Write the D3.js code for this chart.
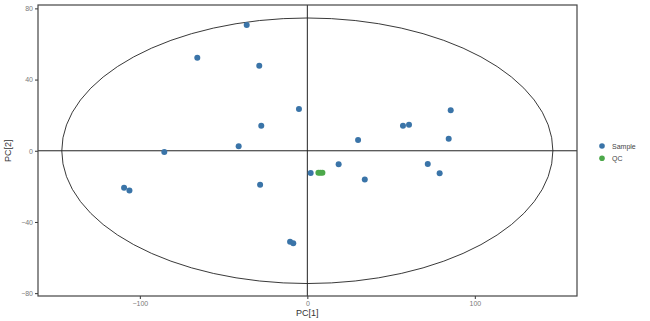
<!DOCTYPE html>
<html>
<head>
<meta charset="utf-8">
<script src="https://cdn.jsdelivr.net/npm/d3@7"></script>
<style>
  body { margin: 0; background: #fff; }
  text { font-family: "Liberation Sans", Arial, sans-serif; }
</style>
</head>
<body>
<div id="chart"></div>
<script>
// sample scores
const sampleX = [-36.2, -65.7, -28.7, -5.0, -27.5, -41.0, -85.4, 85.6, 57.1, 60.7, 30.3, 84.4,
                 -109.4, -106.2, -28.2, -10.3, -8.4, 2.0, 18.7, 34.3, 71.9, 79.0];
const sampleY = [70.6, 52.2, 47.8, 23.4, 14.0, 2.5, -0.7, 22.7, 14.0, 14.6, 6.0, 6.7,
                 -20.8, -22.3, -19.1, -51.1, -52.0, -12.5, -7.6, -16.1, -7.5, -12.7];
// QC scores
const qcX = [6.6, 7.8, 9.0];
const qcY = [-12.4, -12.4, -12.4];

const xTicks = [-100, 0, 100];
const yTicks = [-80, -40, 0, 40, 80];
const ellipseA = 146.6, ellipseB = 74.6; // Hotelling T2 ellipse semi-axes

const groups = ["Sample", "QC"];
const colors = ["#3a74a8", "#4ca84a"];

const width = 650, height = 321;
const panelLeft = 38, panelRight = 577, panelTop = 5, panelBottom = 296;

const x = d3.scaleLinear().domain([-160.8, 161]).range([panelLeft, panelRight]);
const y = d3.scaleLinear().domain([-81.6, 81.9]).range([panelBottom, panelTop]);

const svg = d3.select("#chart").append("svg")
    .attr("width", width)
    .attr("height", height);

// axes
svg.append("g")
    .attr("transform", "translate(0," + panelBottom + ")")
    .call(d3.axisBottom(x).tickValues(xTicks).tickSize(3).tickPadding(2))
    .call(g => g.select(".domain").remove())
    .call(g => g.selectAll("line").attr("stroke", "#333"))
    .call(g => g.selectAll("text").attr("fill", "#7a7a7a").style("font-size", "7px"));

svg.append("g")
    .attr("transform", "translate(" + panelLeft + ",0)")
    .call(d3.axisLeft(y).tickValues(yTicks).tickSize(3).tickPadding(2))
    .call(g => g.select(".domain").remove())
    .call(g => g.selectAll("line").attr("stroke", "#333"))
    .call(g => g.selectAll("text").attr("fill", "#7a7a7a").style("font-size", "7px"));

// zero lines
svg.append("line")
    .attr("x1", x(0)).attr("x2", x(0))
    .attr("y1", panelTop).attr("y2", panelBottom)
    .attr("stroke", "#222").attr("stroke-width", 1);
svg.append("line")
    .attr("x1", panelLeft).attr("x2", panelRight)
    .attr("y1", y(0)).attr("y2", y(0))
    .attr("stroke", "#222").attr("stroke-width", 1);

// ellipse
svg.append("ellipse")
    .attr("cx", x(0)).attr("cy", y(0))
    .attr("rx", x(ellipseA) - x(0))
    .attr("ry", y(0) - y(ellipseB))
    .attr("fill", "none")
    .attr("stroke", "#222")
    .attr("stroke-width", 0.9);

// panel border
svg.append("rect")
    .attr("x", panelLeft).attr("y", panelTop)
    .attr("width", panelRight - panelLeft).attr("height", panelBottom - panelTop)
    .attr("fill", "none")
    .attr("stroke", "#444")
    .attr("stroke-width", 1.2);

// points
svg.selectAll("circle.sample")
    .data(sampleX.map((v, i) => [v, sampleY[i]]))
    .enter().append("circle")
    .attr("class", "sample")
    .attr("cx", d => x(d[0]))
    .attr("cy", d => y(d[1]))
    .attr("r", 3)
    .attr("fill", colors[0]);

svg.selectAll("circle.qc")
    .data(qcX.map((v, i) => [v, qcY[i]]))
    .enter().append("circle")
    .attr("class", "qc")
    .attr("cx", d => x(d[0]))
    .attr("cy", d => y(d[1]))
    .attr("r", 3)
    .attr("fill", colors[1]);

// axis titles
svg.append("text")
    .attr("x", x(0)).attr("y", 316)
    .attr("text-anchor", "middle")
    .attr("fill", "#333")
    .style("font-size", "9px")
    .text("PC[1]");

svg.append("text")
    .attr("transform", "translate(11," + y(0) + ") rotate(-90)")
    .attr("text-anchor", "middle")
    .attr("fill", "#333")
    .style("font-size", "9px")
    .text("PC[2]");

// legend
const legend = svg.selectAll("g.legend")
    .data(groups)
    .enter().append("g")
    .attr("class", "legend")
    .attr("transform", (d, i) => "translate(602," + (146 + i * 12.3) + ")");

legend.append("circle")
    .attr("r", 2.8)
    .attr("fill", (d, i) => colors[i]);

legend.append("text")
    .attr("x", 10).attr("y", 2.5)
    .attr("fill", "#444")
    .style("font-size", "7px")
    .text(d => d);
</script>
</body>
</html>
